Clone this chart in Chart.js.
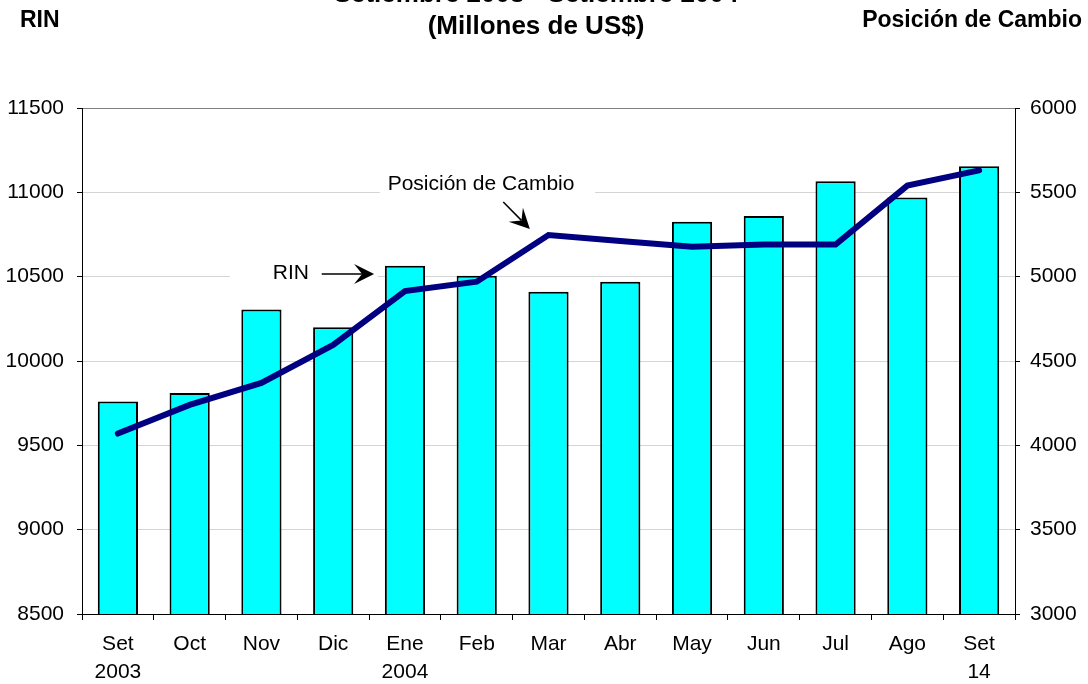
<!DOCTYPE html>
<html>
<head>
<meta charset="utf-8">
<script src="https://cdn.jsdelivr.net/npm/chart.js@4"></script>
<style>
  html, body { margin: 0; padding: 0; background: #fff; }
  #wrap { width: 1088px; height: 684px; position: relative; }
</style>
</head>
<body>
<div id="wrap"><canvas id="grafico" width="1088" height="684"></canvas></div>
<script>
// datos
const meses = ["Set", "Oct", "Nov", "Dic", "Ene", "Feb", "Mar", "Abr", "May", "Jun", "Jul", "Ago", "Set"];
const anios = ["2003", "", "", "", "2004", "", "", "", "", "", "", "", "14"];
const rin = [9760, 9810, 10305, 10200, 10565, 10505, 10410, 10470, 10825, 10860, 11065, 10970, 11155];
const posicion = [4070, 4240, 4370, 4595, 4915, 4970, 5247, 5212, 5177, 5190, 5190, 5540, 5630];
const ticksRin = [8500, 9000, 9500, 10000, 10500, 11000, 11500];
const ticksPos = [3000, 3500, 4000, 4500, 5000, 5500, 6000];

const etiquetas = meses.map((m, i) => anios[i] ? [m, anios[i]] : m);
const fuente = "'Liberation Sans', Arial, sans-serif";

// notas dentro del grafico (en unidades de los ejes)
const notas = [
  { texto: "RIN", x: 2.41, y: 10520, caja: [1.56, 3.62, 10590, 10450],
    flecha: [2.84, 10516, 3.57, 10516] },
  { texto: "Posición de Cambio", x: 5.06, y: 11050, caja: [3.65, 6.65, 11115, 10985],
    flecha: [5.37, 10943, 5.74, 10783] }
];

function dibujarFlecha(c, x1, y1, x2, y2) {
  const ang = Math.atan2(y2 - y1, x2 - x1);
  const largo = 20, ancho = 10;
  c.save();
  c.strokeStyle = "#000";
  c.lineWidth = 1.5;
  c.beginPath();
  c.moveTo(x1, y1);
  c.lineTo(x2 - Math.cos(ang) * largo * 0.6, y2 - Math.sin(ang) * largo * 0.6);
  c.stroke();
  c.translate(x2, y2);
  c.rotate(ang);
  c.fillStyle = "#000";
  c.beginPath();
  c.moveTo(0, 0);
  c.lineTo(-largo, -ancho);
  c.lineTo(-largo * 0.6, 0);
  c.lineTo(-largo, ancho);
  c.closePath();
  c.fill();
  c.restore();
}

const pluginNotas = {
  id: "notas",
  beforeDatasetsDraw(chart) {
    const c = chart.ctx, sx = chart.scales.x, sy = chart.scales.y;
    c.save();
    c.fillStyle = "#fff";
    notas.forEach(n => {
      const x1 = sx.getPixelForValue(n.caja[0]), x2 = sx.getPixelForValue(n.caja[1]);
      const y1 = sy.getPixelForValue(n.caja[2]), y2 = sy.getPixelForValue(n.caja[3]);
      c.fillRect(x1, y1, x2 - x1, y2 - y1);
    });
    c.fillStyle = "#000";
    c.font = "21px " + fuente;
    c.textAlign = "center";
    c.textBaseline = "middle";
    notas.forEach(n => {
      c.fillText(n.texto, sx.getPixelForValue(n.x), sy.getPixelForValue(n.y));
      const f = n.flecha;
      dibujarFlecha(c, sx.getPixelForValue(f[0]), sy.getPixelForValue(f[1]),
        sx.getPixelForValue(f[2]), sy.getPixelForValue(f[3]));
    });
    c.restore();
  },
  afterDraw(chart) {
    const c = chart.ctx;
    c.save();
    c.fillStyle = "#000";
    c.textBaseline = "middle";
    c.textAlign = "center";
    c.font = "bold 26px " + fuente;
    c.fillText("Setiembre 2003 - Setiembre 2004", 536, -5);
    c.fillText("(Millones de US$)", 536, 27);
    c.font = "bold 23px " + fuente;
    c.textAlign = "left";
    c.fillText("RIN", 20, 21);
    c.textAlign = "right";
    c.fillText("Posición de Cambio", 1082, 21);
    c.restore();
  }
};

new Chart(document.getElementById("grafico"), {
  type: "bar",
  data: {
    labels: etiquetas,
    datasets: [
      {
        type: "line",
        label: "Posición de Cambio",
        data: posicion,
        yAxisID: "y2",
        borderColor: "#000080",
        borderWidth: 6,
        pointRadius: 0,
        tension: 0,
        borderCapStyle: "round",
        order: 0
      },
      {
        label: "RIN",
        data: rin,
        yAxisID: "y",
        backgroundColor: "#00FFFF",
        borderColor: "#000",
        borderWidth: 2,
        categoryPercentage: 1,
        barPercentage: 0.56,
        order: 1
      }
    ]
  },
  options: {
    responsive: false,
    animation: false,
    devicePixelRatio: 1,
    layout: { padding: { top: 108, left: 0, right: 0, bottom: 0 } },
    plugins: { legend: { display: false }, title: { display: false }, tooltip: { enabled: false } },
    scales: {
      x: {
        grid: { offset: true, drawOnChartArea: false, color: "#000", tickLength: 6 },
        border: { color: "#000", width: 1 },
        ticks: { color: "#000", font: { size: 21, family: fuente, lineHeight: 1.35 },
          maxRotation: 0, autoSkip: false, padding: 10 },
        afterFit(s) { s.height = 70; }
      },
      y: {
        position: "left",
        min: 8500, max: 11500,
        afterBuildTicks(s) { s.ticks = ticksRin.map(v => ({ value: v })); },
        grid: {
          color: ctx => ctx.tick && ctx.tick.value === 11500 ? "#808080" : "#d4d4d4",
          tickColor: "#000", tickLength: 5
        },
        border: { color: "#000", width: 1 },
        ticks: { color: "#000", font: { size: 21, family: fuente }, padding: 13,
          callback: v => String(v) },
        afterFit(s) { s.width = 82; }
      },
      y2: {
        position: "right",
        min: 3000, max: 6000,
        afterBuildTicks(s) { s.ticks = ticksPos.map(v => ({ value: v })); },
        grid: { drawOnChartArea: false, color: "#000", tickLength: 5 },
        border: { color: "#000", width: 1 },
        ticks: { color: "#000", font: { size: 21, family: fuente }, padding: 10,
          callback: v => String(v) },
        afterFit(s) { s.width = 73; }
      }
    }
  },
  plugins: [pluginNotas]
});
</script>
</body>
</html>
